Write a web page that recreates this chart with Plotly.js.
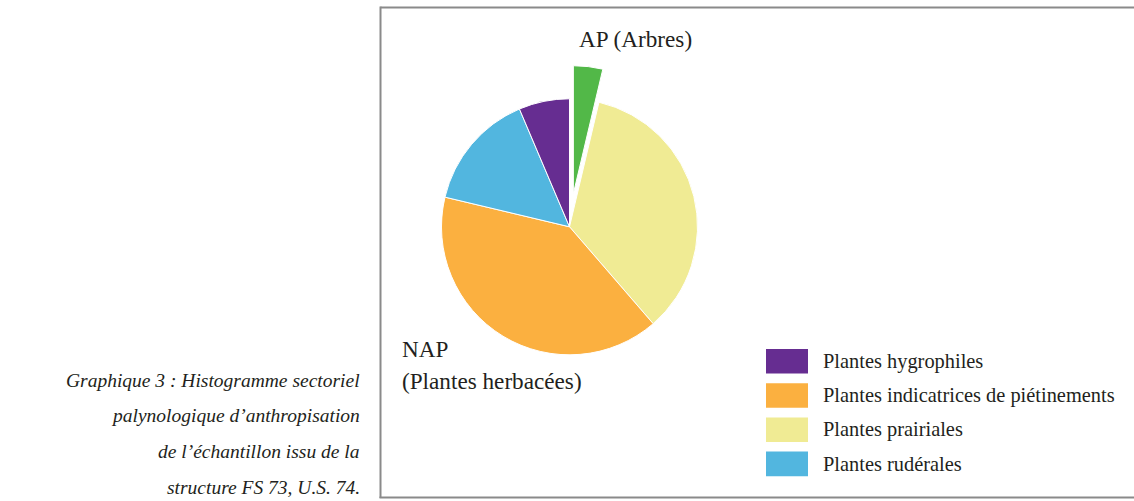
<!DOCTYPE html>
<html>
<head>
<meta charset="utf-8">
<script src="https://cdn.plot.ly/plotly-3.0.1.min.js"></script>
<style>
  html, body { margin: 0; padding: 0; background: #ffffff; }
  #chart { width: 1134px; height: 501px; }
</style>
</head>
<body>
<div id="chart"></div>
<script>
// ---- data ----
const sliceLabels = ['AP (Arbres)', 'Plantes prairiales', 'Plantes indicatrices de piétinements', 'Plantes rudérales', 'Plantes hygrophiles'];
const sliceValues = [3.7, 35.0, 40.1, 14.9, 6.4];
const sliceColors = ['#52B848', '#F0EB94', '#FBB040', '#52B6DF', '#662D91'];
const slicePull = [0.26, 0, 0, 0, 0];
const legendLabels = ['Plantes hygrophiles', 'Plantes indicatrices de piétinements', 'Plantes prairiales', 'Plantes rudérales'];
const captionLines = ['Graphique 3 : Histogramme sectoriel', 'palynologique d’anthropisation', 'de l’échantillon issu de la', 'structure FS 73, U.S. 74.'];
const apLabel = 'AP (Arbres)';
const napLines = ['NAP', '(Plantes herbacées)'];

// ---- layout helpers ----
const W = 1134, H = 501;
const px = x => x / W;
const py = y => 1 - y / H;
const textColor = '#231F20';
const serif = 'Liberation Serif, Times New Roman, serif';

const trace = {
  type: 'pie',
  labels: sliceLabels,
  values: sliceValues,
  marker: { colors: sliceColors, line: { color: '#ffffff', width: 1 } },
  pull: slicePull,
  sort: false,
  direction: 'clockwise',
  rotation: 0,
  textinfo: 'none',
  hoverinfo: 'label+percent',
  showlegend: false,
  domain: { x: [px(408.2), px(730.8)], y: [py(388.1), py(65.5)] }
};

const shapes = [];
const annotations = [];

// frame
shapes.push({ type: 'line', xref: 'paper', yref: 'paper', x0: px(380.5), x1: px(1140), y0: py(7.5), y1: py(7.5), line: { color: '#8a8a8a', width: 2 } });
shapes.push({ type: 'line', xref: 'paper', yref: 'paper', x0: px(380.5), x1: px(380.5), y0: py(6.5), y1: py(498), line: { color: '#8a8a8a', width: 2 } });
shapes.push({ type: 'line', xref: 'paper', yref: 'paper', x0: px(379.5), x1: px(1140), y0: py(497.5), y1: py(497.5), line: { color: '#8a8a8a', width: 2 } });

// custom legend built from the data arrays
legendLabels.forEach((lab, i) => {
  const idx = sliceLabels.indexOf(lab);
  const yc = 361.3 + i * 34.2;
  shapes.push({ type: 'rect', xref: 'paper', yref: 'paper', x0: px(766), x1: px(808), y0: py(yc - 12.3), y1: py(yc + 12.3), fillcolor: sliceColors[idx], line: { width: 0 } });
  annotations.push({ xref: 'paper', yref: 'paper', x: px(821), y: py(yc), xanchor: 'left', yanchor: 'middle', showarrow: false, text: lab, font: { family: serif, size: 20.4, color: textColor } });
});

// slice group labels
annotations.push({ xref: 'paper', yref: 'paper', x: px(577), y: py(39), xanchor: 'left', yanchor: 'middle', showarrow: false, text: apLabel, font: { family: serif, size: 23.2, color: textColor } });
napLines.forEach((t, i) => {
  annotations.push({ xref: 'paper', yref: 'paper', x: px(400), y: py(349 + i * 32), xanchor: 'left', yanchor: 'middle', showarrow: false, text: t, font: { family: serif, size: 23.2, color: textColor } });
});

// caption
captionLines.forEach((t, i) => {
  annotations.push({ xref: 'paper', yref: 'paper', x: px(362), y: py(380 + i * 35.7), xanchor: 'right', yanchor: 'middle', showarrow: false, text: '<i>' + t + '</i>', font: { family: serif, size: 19.5, color: textColor } });
});

const layout = {
  width: W, height: H,
  margin: { l: 0, r: 0, t: 0, b: 0, pad: 0 },
  paper_bgcolor: '#ffffff',
  plot_bgcolor: '#ffffff',
  showlegend: false,
  shapes: shapes,
  annotations: annotations
};

Plotly.newPlot('chart', [trace], layout, { displayModeBar: false, staticPlot: false });
</script>
</body>
</html>
